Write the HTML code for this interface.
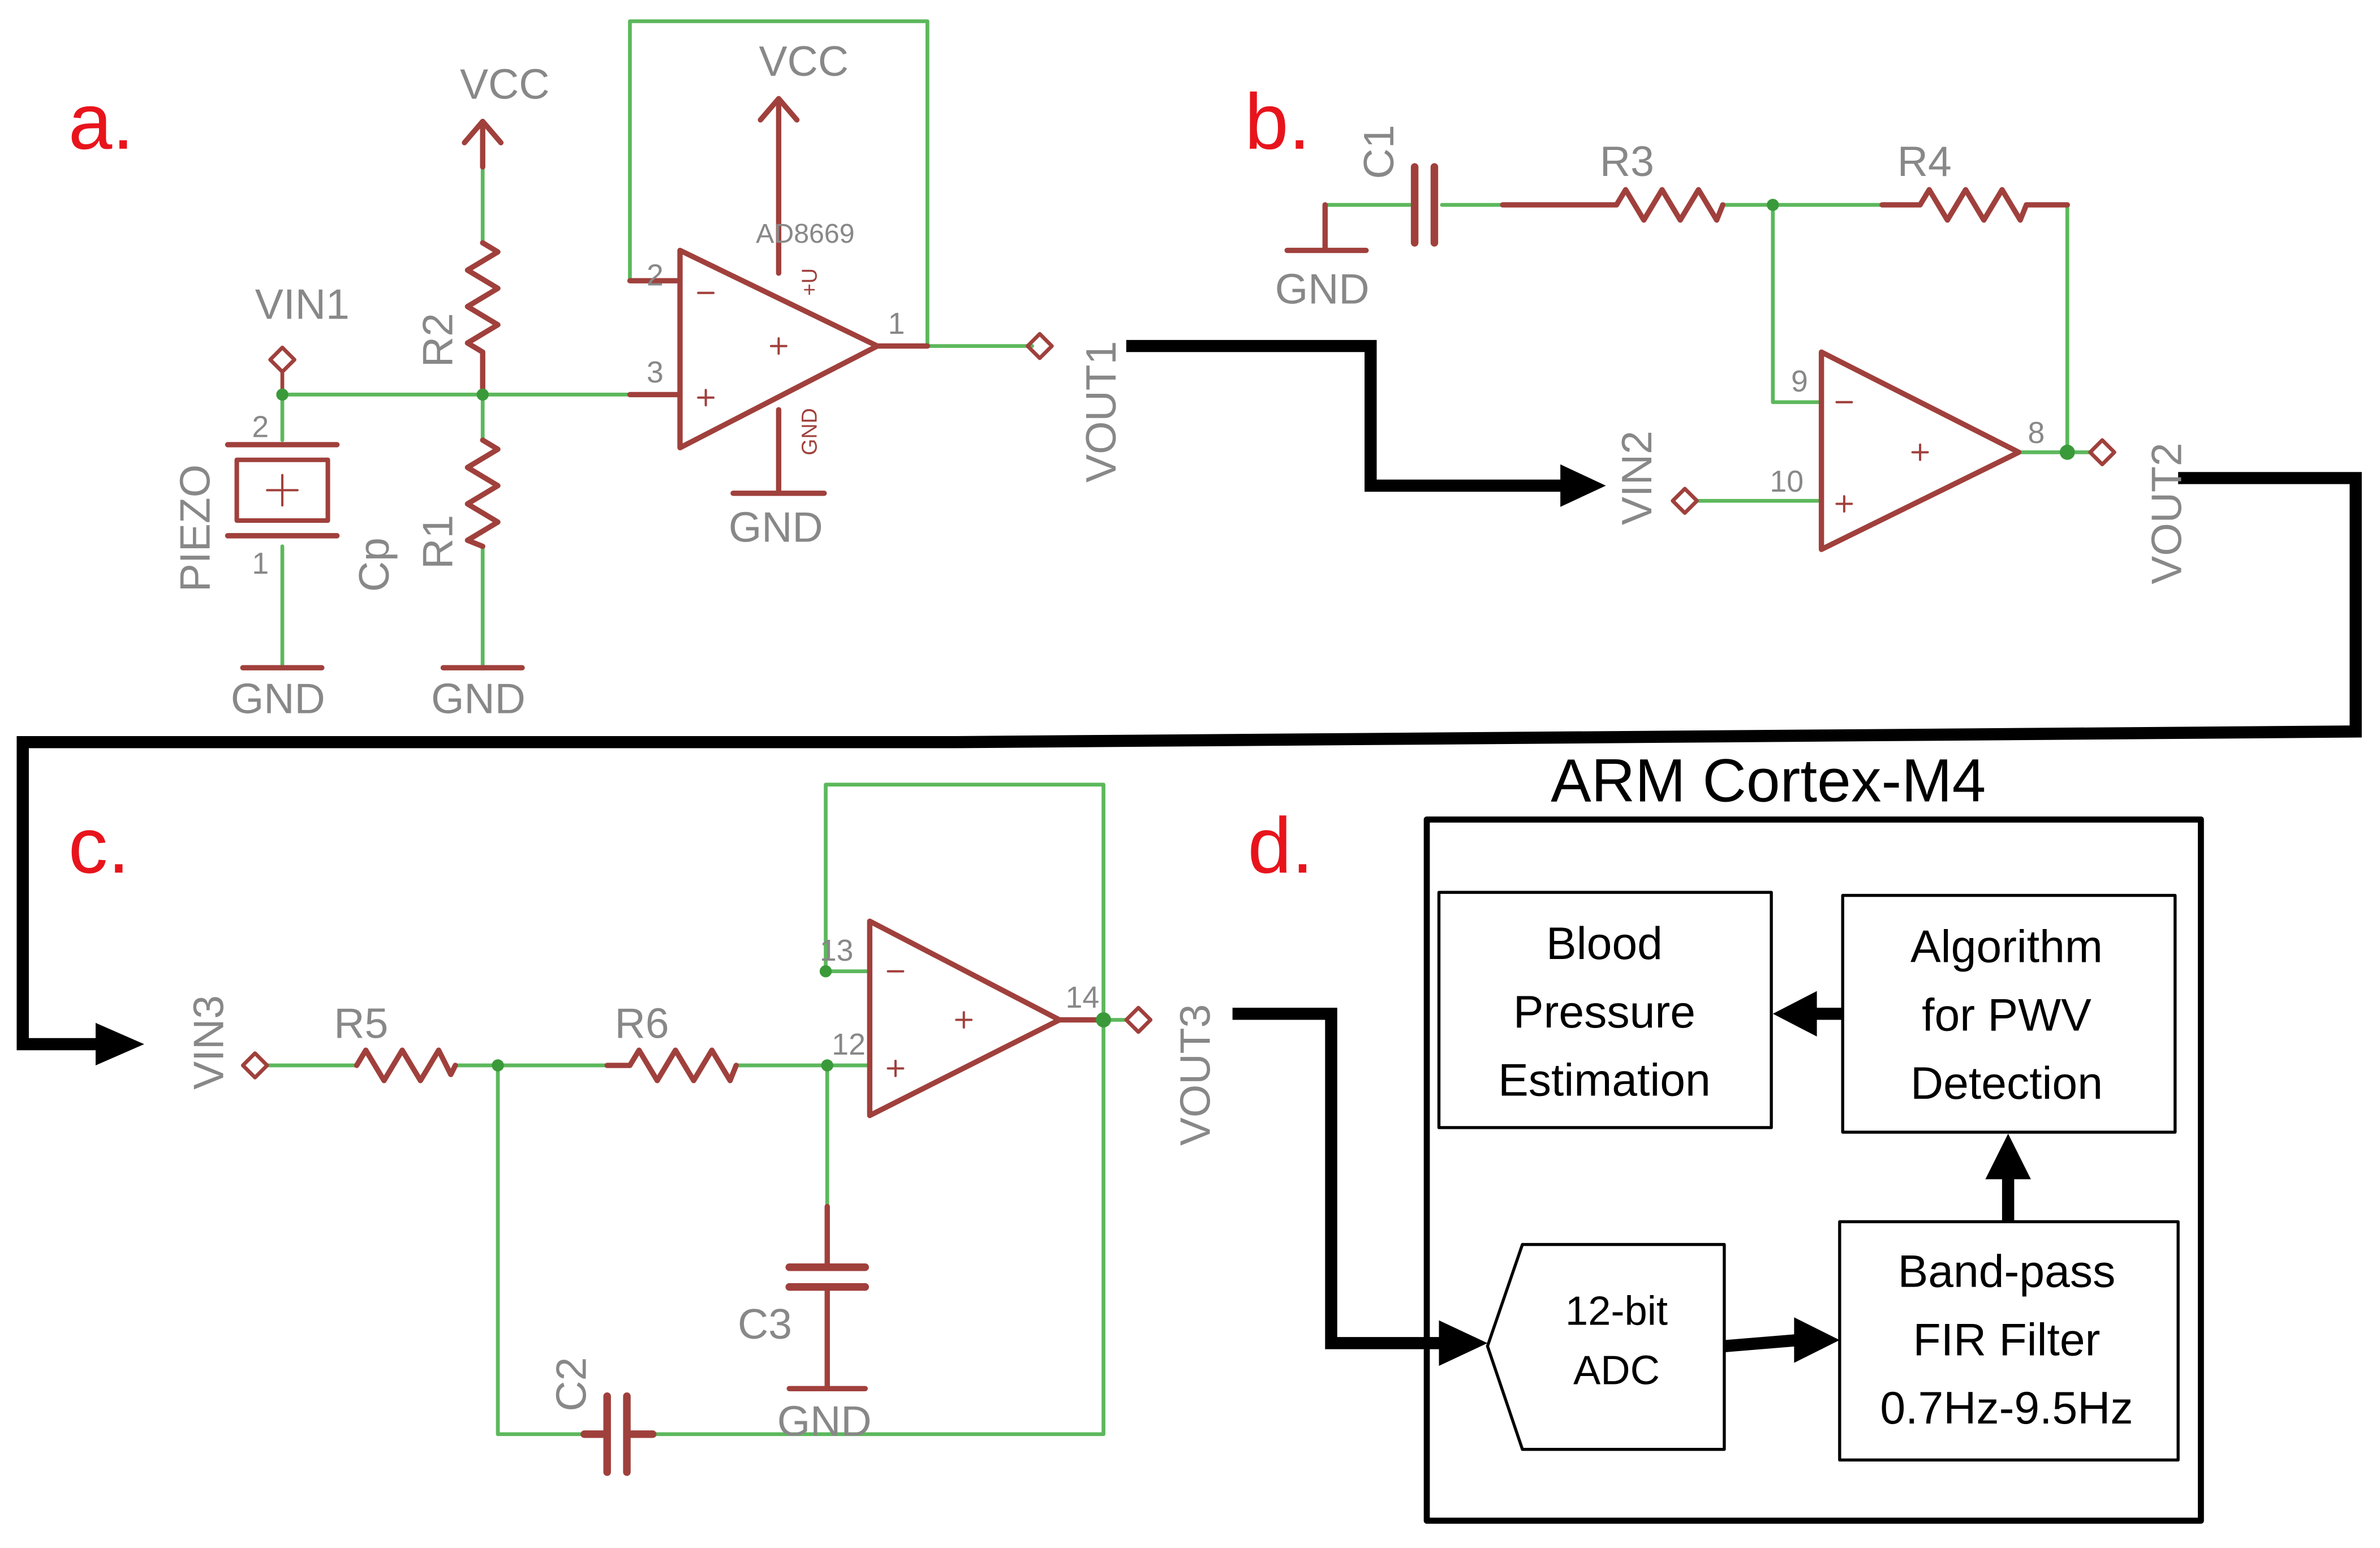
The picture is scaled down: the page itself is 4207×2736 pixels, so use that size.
<!DOCTYPE html>
<html><head><meta charset="utf-8"><style>
html,body{margin:0;padding:0;background:#fff;}
svg{display:block;}
text{font-family:"Liberation Sans",sans-serif;}
</style></head><body>
<svg width="4207" height="2736" viewBox="0 0 1568 1020" preserveAspectRatio="none" xmlns="http://www.w3.org/2000/svg">
<rect width="1568" height="1020" fill="#fff"/>
<g fill="none" stroke-linecap="round" stroke-linejoin="round">
<!-- ===== a ===== -->
<g stroke="#5cb85c" stroke-width="2.5">
<path d="M186,260 H415"/>
<path d="M186,260 V290"/>
<path d="M186,360 V440"/>
<path d="M318,260 V290 M318,360 V440"/>
<path d="M415,185 V14 H611 V228"/>
<path d="M611,228 H680"/>
<path d="M318,110 V160"/>
</g>
<g stroke="#a0403c" stroke-width="3.5">
<!-- piezo -->
<path d="M150,293 H222 M150,353 H222"/>
<rect x="156" y="303" width="60" height="40" stroke-width="3"/>
<path d="M186,313 V333 M176,323 H196" stroke-width="1.5"/>
<path d="M160,440 H212 M292,440 H344"/>
<!-- R2 -->
<path d="M318,160 L328,166 L308,178 L328,190 L308,202 L328,214 L308,226 L318,232 V260"/>
<!-- R1 -->
<path d="M318,290 L328,296 L308,308 L328,320 L308,332 L328,344 L308,356 L318,360"/>
<!-- VCC arrows -->
<path d="M318,80 V110 M306,94 L318,80 L330,94"/>
<path d="M513,65 V180 M501,79 L513,65 L525,79"/>
<!-- opamp a -->
<path d="M448,165 L448,295 L578,228 Z"/>
<path d="M415,185 H448 M415,260 H448 M578,228 H611"/>
<path d="M513,270 V325 M483,325 H543"/>
<path d="M460,193 H470 M460,262 H470 M465,257 V267 M508,228 H518 M513,223 V233" stroke-width="1.5"/>
<!-- diamonds -->
<path d="M186,229 L194,237 L186,245 L178,237 Z M186,245 V260" stroke-width="2.5"/>
<path d="M685,220 L693,228 L685,236 L677,228 Z" stroke-width="2.5"/>
</g>
<g fill="#3a9a3a" stroke="none">
<circle cx="186" cy="260" r="4"/><circle cx="318" cy="260" r="4"/>
</g>
<!-- ===== b ===== -->
<g stroke="#5cb85c" stroke-width="2.5">
<path d="M873,135 H930"/>
<path d="M1135,135 H1240"/>
<path d="M1168,135 V265 H1200"/>
<path d="M1362,135 V298"/>
<path d="M1118,330 H1200"/>
<path d="M1330,298 H1378"/>
<path d="M950,135 H990"/>
</g>
<g stroke="#a0403c" stroke-width="3.5">
<path d="M873,135 V165 M848,165 H900"/>
<path d="M932,110 V160 M945,110 V160" stroke-width="5"/>
<path d="M990,135 H1065 L1071,125 L1083,145 L1095,125 L1107,145 L1119,125 L1131,145 L1135,135"/>
<path d="M1240,135 H1265 L1271,125 L1283,145 L1295,125 L1307,145 L1319,125 L1331,145 L1335,135 H1362"/>
<path d="M1200,232 L1200,362 L1330,298 Z"/>
<path d="M1210,265 H1220 M1210,332 H1220 M1215,327 V337 M1260,298 H1270 M1265,293 V303" stroke-width="1.5"/>
<path d="M1110,322 L1118,330 L1110,338 L1102,330 Z" stroke-width="2.5"/>
<path d="M1385,290 L1393,298 L1385,306 L1377,298 Z" stroke-width="2.5"/>
</g>
<g fill="#3a9a3a" stroke="none"><circle cx="1168" cy="135" r="4"/><circle cx="1362" cy="298" r="5"/></g>
<!-- ===== c ===== -->
<g stroke="#5cb85c" stroke-width="2.5">
<path d="M176,702 H235 M300,702 H400 M485,702 H573"/>
<path d="M328,702 V945 H385 M430,945 H727 V517 H544 V640 H573"/>
<path d="M545,702 V795"/>
<path d="M727,672 H742"/>
</g>
<g stroke="#a0403c" stroke-width="3.5">
<path d="M235,702 L241,692 L253,712 L265,692 L277,712 L289,692 L297,708 L300,702"/>
<path d="M400,702 H415 L421,692 L433,712 L445,692 L457,712 L469,692 L481,712 L485,702"/>
<path d="M385,945 H400 M413,945 H430 M400,920 V970 M413,920 V970" stroke-width="5"/>
<path d="M545,795 V835 M520,835 H570 M520,848 H570 M545,848 V915 M520,915 H570" />
<path d="M520,835 H570 M520,848 H570" stroke-width="5"/>
<path d="M573,607 L573,735 L698,672 Z M698,672 H727"/>
<path d="M585,640 H595 M585,704 H595 M590,699 V709 M630,672 H640 M635,667 V677" stroke-width="1.5"/>
<path d="M168,694 L176,702 L168,710 L160,702 Z" stroke-width="2.5"/>
<path d="M750,664 L758,672 L750,680 L742,672 Z" stroke-width="2.5"/>
</g>
<g fill="#3a9a3a" stroke="none"><circle cx="328" cy="702" r="4"/><circle cx="545" cy="702" r="4"/><circle cx="544" cy="640" r="4"/><circle cx="727" cy="672" r="5"/></g>
<!-- ===== black connectors ===== -->
<g stroke="#000" stroke-width="8" stroke-linejoin="miter" stroke-linecap="butt">
<path d="M742,228 H903 V320 H1030"/>
<path d="M1435,315 H1552 V482 L630,489 H15 V688 H65"/>
<path d="M812,668 H877 V885 H950"/>
<path d="M1136,887 L1185,883"/>
<path d="M1323,805 V775"/>
<path d="M1214,668 H1195"/>
</g>
<g fill="#000">
<path d="M1028,306 L1058,320 L1028,334 Z"/>
<path d="M63,674 L95,688 L63,702 Z"/>
<path d="M948,870 L980,885 L948,900 Z"/>
<path d="M1182,868 L1212,883 L1182,898 Z"/>
<path d="M1308,777 L1323,747 L1338,777 Z"/>
<path d="M1197,653 L1168,668 L1197,683 Z"/>
</g>
<!-- box d -->
<g stroke="#000" stroke-width="3">
<rect x="940" y="540" width="510" height="462" stroke-width="4"/>
<rect x="948" y="588" width="219" height="155" stroke-width="2"/>
<rect x="1214" y="590" width="219" height="156" stroke-width="2"/>
<rect x="1212" y="805" width="223" height="157" stroke-width="2"/>
<path d="M1003,820 H1136 V955 H1003 L980,887 Z" stroke-width="2"/>
</g>
</g>
<!-- text -->
<g fill="#e8141c" font-size="52">
<text x="45" y="98">a.</text><text x="820" y="98">b.</text>
<text x="45" y="575">c.</text><text x="822" y="575">d.</text>
</g>
<g fill="#888" font-size="28">
<text x="303" y="65">VCC</text><text x="500" y="50">VCC</text>
<text x="168" y="210">VIN1</text>
<text x="152" y="470">GND</text><text x="284" y="470">GND</text>
<text x="480" y="357">GND</text><text x="840" y="200">GND</text>
<text x="1054" y="116">R3</text><text x="1250" y="116">R4</text>
<text x="220" y="684">R5</text><text x="405" y="684">R6</text>
<text x="486" y="882">C3</text><text x="512" y="946">GND</text>
<text transform="translate(298,242) rotate(-90)">R2</text>
<text transform="translate(298,375) rotate(-90)">R1</text>
<text transform="translate(138,390) rotate(-90)">PIEZO</text>
<text transform="translate(256,390) rotate(-90)">Cp</text>
<text transform="translate(735,318) rotate(-90)">VOUT1</text>
<text transform="translate(918,118) rotate(-90)">C1</text>
<text transform="translate(1088,346) rotate(-90)">VIN2</text>
<text transform="translate(1437,385) rotate(-90)">VOUT2</text>
<text transform="translate(147,718) rotate(-90)">VIN3</text>
<text transform="translate(797,755) rotate(-90)">VOUT3</text>
<text transform="translate(386,930) rotate(-90)">C2</text>
</g>
<g fill="#888" font-size="20">
<text x="426" y="188">2</text><text x="426" y="252">3</text><text x="585" y="220">1</text>
<text x="166" y="288">2</text><text x="166" y="378">1</text>
<text x="1180" y="258">9</text><text x="1166" y="324">10</text><text x="1336" y="292">8</text>
<text x="540" y="633">13</text><text x="548" y="695">12</text><text x="702" y="664">14</text>
<text x="498" y="160" font-size="18">AD8669</text>
</g>
<g fill="#a0403c" font-size="14">
<text transform="translate(538,195) rotate(-90)">+U</text>
<text transform="translate(538,300) rotate(-90)">GND</text>
</g>
<g fill="#000" font-size="40" text-anchor="middle">
<text x="1165" y="528">ARM Cortex-M4</text>
</g>
<g fill="#000" font-size="30" text-anchor="middle">
<text x="1057" y="632">Blood</text><text x="1057" y="677">Pressure</text><text x="1057" y="722">Estimation</text>
<text x="1322" y="634">Algorithm</text><text x="1322" y="679">for PWV</text><text x="1322" y="724">Detection</text>
<text x="1322" y="848">Band-pass</text><text x="1322" y="893">FIR Filter</text><text x="1322" y="938">0.7Hz-9.5Hz</text>
<text x="1065" y="873" font-size="27">12-bit</text><text x="1065" y="912" font-size="27">ADC</text>
</g>
</svg>
</body></html>
